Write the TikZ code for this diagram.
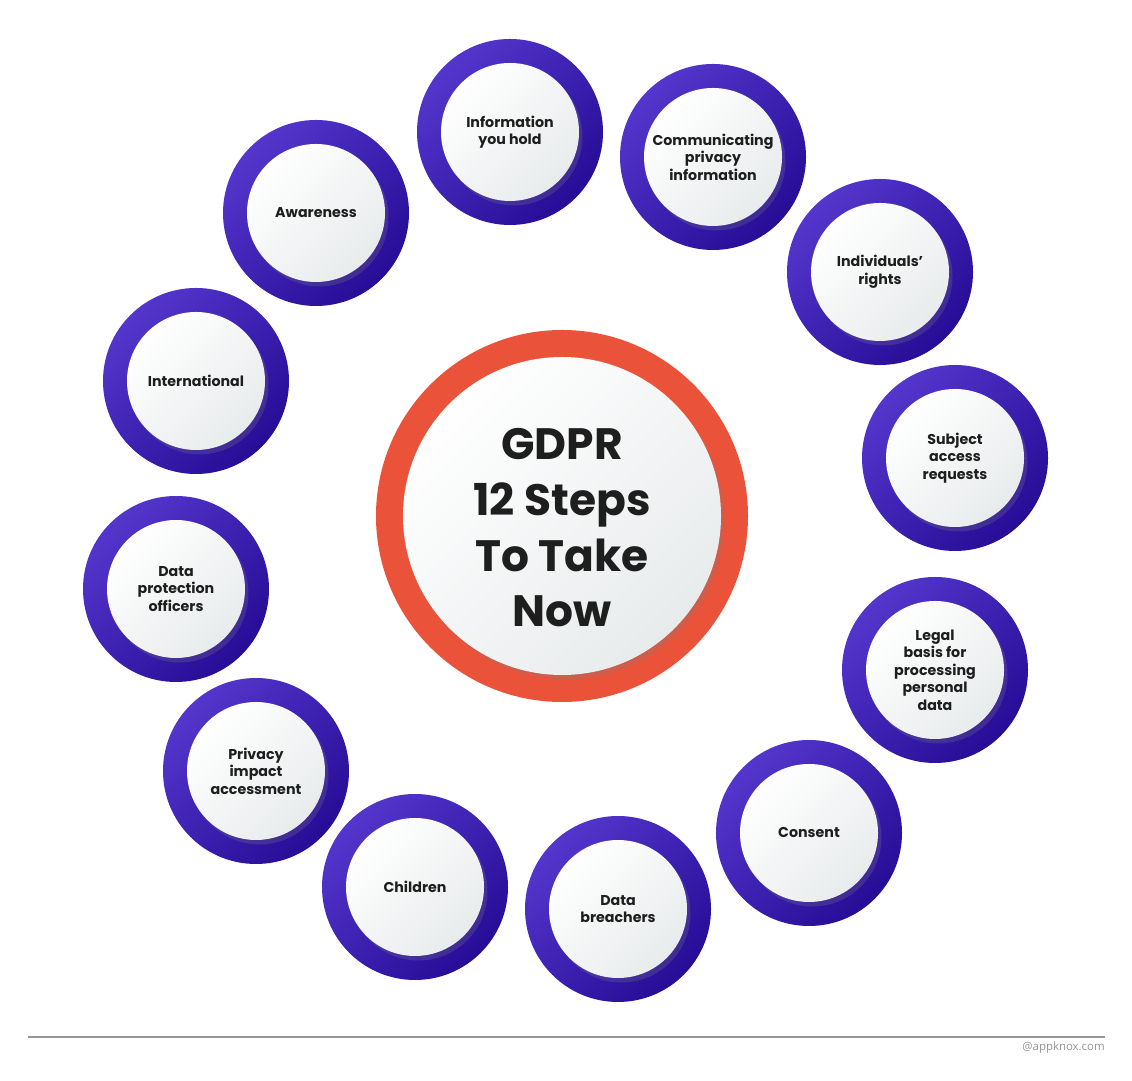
\documentclass[tikz,border=0pt]{standalone}
\usepackage{fontspec}
\setmainfont{Poppins}
\newfontfamily\creditfont{Open Sans}
\usetikzlibrary{shadows,positioning}
\definecolor{ringlight}{RGB}{84,54,204}
\definecolor{ringdark}{RGB}{38,12,150}
\definecolor{gdprred}{RGB}{234,82,58}
\definecolor{innergray}{RGB}{232,235,236}
\definecolor{labeltext}{RGB}{30,30,30}
\definecolor{footgray}{RGB}{150,150,150}

\begin{document}
\begin{tikzpicture}[
    ring/.style={circle, minimum size=3.72cm, inner sep=0pt, top color=ringlight, bottom color=ringdark, shading angle=45},
    stepbox/.style={circle, minimum size=2.76cm, inner sep=0pt, align=center, top color=white, bottom color=innergray, shading angle=45,
        drop shadow={shadow xshift=0.07cm, shadow yshift=-0.09cm, opacity=0.25}, text=labeltext, font=\bfseries\fontsize{8.1}{10}\selectfont}
]
    % Page
    \fill[white] (0,0) rectangle (22.64,21.6);
    \useasboundingbox (0,0) rectangle (22.64,21.6);

    % Centre
    \node[circle, minimum size=7.44cm, fill=gdprred] (gdpr) at (11.24,11.28) {};
    \node[stepbox, minimum size=6.36cm] (core) at (gdpr) {};
    \node[align=center, text=labeltext, font=\bfseries\fontsize{25}{31.7}\selectfont] (title) at (11.24,11.04) {GDPR\\12 Steps\\To Take\\Now};

    % Step 1
    \node[ring] (r1) at (10.20,18.96) {};
    \node[stepbox] (s1) at (r1) {Information\\you hold};

    % Step 2
    \node[ring] (r2) at (14.26,18.46) {};
    \node[stepbox] (s2) at (r2) {Communicating\\privacy\\information};

    % Step 3
    \node[ring] (r3) at (17.60,16.16) {};
    \node[stepbox] (s3) at (r3) {Individuals’\\rights};

    % Step 4
    \node[ring] (r4) at (19.10,12.44) {};
    \node[stepbox] (s4) at (r4) {Subject\\access\\requests};

    % Step 5
    \node[ring] (r5) at (18.70,8.20) {};
    \node[stepbox] (s5) at (r5) {Legal\\basis for\\processing\\personal\\data};

    % Step 6
    \node[ring] (r6) at (16.18,4.94) {};
    \node[stepbox] (s6) at (r6) {Consent};

    % Step 7
    \node[ring] (r7) at (12.36,3.42) {};
    \node[stepbox] (s7) at (r7) {Data\\breachers};

    % Step 8
    \node[ring] (r8) at (8.30,3.86) {};
    \node[stepbox] (s8) at (r8) {Children};

    % Step 9
    \node[ring] (r9) at (5.12,6.18) {};
    \node[stepbox] (s9) at (r9) {Privacy\\impact\\accessment};

    % Step 10
    \node[ring] (r10) at (3.52,9.82) {};
    \node[stepbox] (s10) at (r10) {Data\\protection\\officers};

    % Step 11
    \node[ring] (r11) at (3.92,13.98) {};
    \node[stepbox] (s11) at (r11) {International};

    % Step 12
    \node[ring] (r12) at (6.32,17.34) {};
    \node[stepbox] (s12) at (r12) {Awareness};

    % Footer
    \coordinate (footl) at (0.56,0.86);
    \coordinate (footr) at (22.10,0.86);
    \draw[footgray, line width=0.8pt] (footl) -- (footr);
    \node[anchor=east, inner sep=0pt, text=footgray, font=\creditfont\fontsize{6.5}{8}\selectfont] (credit) at (22.10,0.64) {@appknox.com};
\end{tikzpicture}
\end{document}
